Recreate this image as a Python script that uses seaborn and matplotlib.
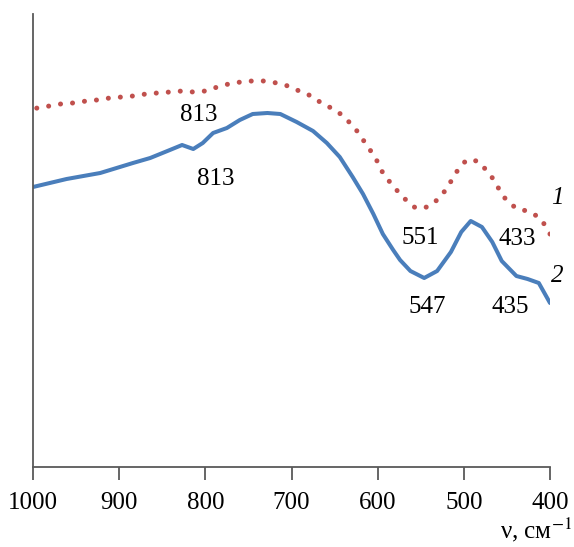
import matplotlib
matplotlib.use("Agg")
import matplotlib.pyplot as plt
import seaborn as sns
import pandas as pd

# Curve 2 (blue, solid)
wn2 = [1000, 961, 922, 884, 864, 844, 827, 814, 803, 791, 775, 760, 745, 728,
       713, 694, 675, 659, 644, 629, 617, 605, 594, 582, 574, 562, 546, 531,
       515, 503, 492, 479, 467, 456, 439, 426, 413, 400]
t2 = [279, 287, 293, 303, 308, 315, 321, 317, 323, 333, 338, 346, 352, 353,
      352, 344, 335, 323, 309, 289, 272, 252, 232, 216, 206, 195, 188, 195,
      214, 234, 245, 239, 224, 205, 190, 187, 183, 163]

# Curve 1 (red, dotted)
wn1 = [1000, 995, 981, 968, 954, 938, 926, 911, 897, 884, 869, 856, 841, 827,
       814, 800, 786, 773, 759, 746, 731, 717, 704, 691, 677, 667, 654, 643,
       632, 623, 616, 608, 600, 594, 585, 576, 566, 556, 542, 531, 521, 514,
       507, 497, 484, 474, 465, 458, 450, 438, 426, 413, 405, 400]
t1 = [357, 358, 360, 362, 363, 365, 366, 368, 369, 370, 372, 373, 374, 375,
      374, 375, 379, 382, 384, 385, 385, 383, 380, 375, 370, 364, 358, 352,
      343, 334, 325, 315, 304, 293, 283, 274, 265, 258, 259, 266, 276, 286,
      296, 306, 305, 296, 286, 275, 265, 257, 255, 249, 240, 232]

xticks = [1000, 900, 800, 700, 600, 500, 400]

labels_txt = ["813", "813", "551", "433", "547", "435"]
labels_x = [808, 788, 551, 438, 543, 446]
labels_y = [351, 287, 228, 227, 159, 159]

sns.set_style("white")
plt.rcParams["font.family"] = ["Liberation Serif", "DejaVu Serif"]
plt.rcParams["mathtext.fontset"] = "stix"
plt.rcParams["text.color"] = "black"
plt.rcParams["xtick.color"] = "black"

fig = plt.figure(figsize=(5.74, 5.47), dpi=100)
ax = fig.add_axes([33/574, 1 - 467/547, (550 - 33)/574, (467 - 14)/547])

df1 = pd.DataFrame({"x": wn1, "y": t1})
df2 = pd.DataFrame({"x": wn2, "y": t2})

sns.lineplot(data=df1, x="x", y="y", ax=ax, color="#C0504D", lw=3.6,
             linestyle=(0, (0.01, 2.4)), dash_capstyle="round")
sns.lineplot(data=df2, x="x", y="y", ax=ax, color="#4A7EBB", lw=2.9)

ax.set_xlim(1000, 400)
ax.set_ylim(-1, 452)
ax.set_xticks(xticks)
ax.set_xticklabels([str(v) for v in xticks])
ax.set_yticks([])
ax.set_xlabel("")
ax.set_ylabel("")

for s in ["top", "right"]:
    ax.spines[s].set_visible(False)
for s in ["left", "bottom"]:
    ax.spines[s].set_color("#595959")
    ax.spines[s].set_linewidth(1.3)

ax.tick_params(axis="x", direction="out", length=9, width=1.3, color="#595959",
               labelcolor="black", labelsize=18, pad=9, bottom=True)

for t, x, y in zip(labels_txt, labels_x, labels_y):
    ax.text(x, y, t, fontsize=18, ha="center", va="center", color="black")

ax.text(391, 268, "1", fontsize=18, style="italic", ha="center", va="center", color="black")
ax.text(392, 190, "2", fontsize=18, style="italic", ha="center", va="center", color="black")

fig.text(0.997, 0.005, "ν, см$^{-1}$", fontsize=18, ha="right", va="bottom", color="black")

fig.savefig("out.png", dpi=100, facecolor="white")
